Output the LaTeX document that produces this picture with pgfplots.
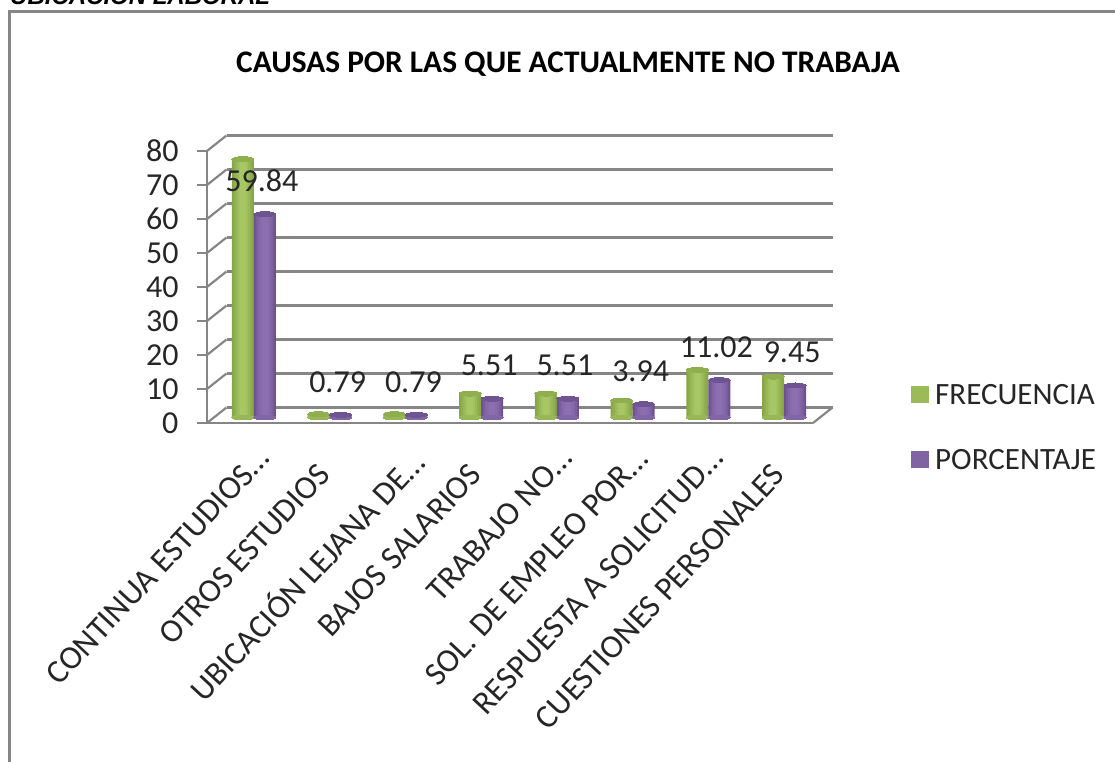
\documentclass[border=0pt]{standalone}
\usepackage{pgfplots}
\usepackage{pgfplotstable}
\usepackage{fontspec}
\setmainfont{Carlito}
\newfontfamily\arialf{Liberation Sans}
\pgfplotsset{compat=1.18}
\definecolor{fgreen}{HTML}{8FAF4E}
\definecolor{ga}{HTML}{86A648}
\definecolor{gb}{HTML}{8FAF4F}
\definecolor{gc}{HTML}{98B858}
\definecolor{gd}{HTML}{A1C160}
\definecolor{ge}{HTML}{A7C765}
\definecolor{fpurp}{HTML}{6F5492}
\definecolor{pa}{HTML}{6E5290}
\definecolor{pb}{HTML}{7A5E9C}
\definecolor{pc}{HTML}{8265A6}
\definecolor{pd}{HTML}{886BAC}
\definecolor{pe}{HTML}{8C6FB0}
\definecolor{fgreenK}{HTML}{9BBB59}
\definecolor{fpurpK}{HTML}{8064A2}
\definecolor{gridg}{HTML}{868686}
\pgfplotstableread{
x frec pct base
0 76 59.84 0
1 1 0.79 0
2 1 0.79 0
3 7 5.51 0
4 7 5.51 0
5 5 3.94 0
6 14 11.02 0
7 12 9.45 0
}\datos
\newcommand{\gbar}[2]{\addplot[ybar,bar width=#1pt,bar shift=0pt,draw=none,fill=#2,xshift=-2pt,yshift=5.5pt] table[x=x,y=frec] {\datos};}
\newcommand{\pbar}[2]{\addplot[ybar,bar width=#1pt,bar shift=0pt,draw=none,fill=#2,xshift=20pt,yshift=5.5pt] table[x=x,y=pct] {\datos};}
\newcommand{\dotsend}{…\hspace*{-22pt}}
\begin{document}
\begin{tikzpicture}[x=1pt,y=1pt]
\useasboundingbox (0,0) rectangle (1115,761);
\clip (0,0) rectangle (1115,761);
\draw[gridg,line width=3pt] (9,-5) -- (9,749) -- (1120,749);
\node[anchor=base west,inner sep=0pt,font=\arialf\bfseries\itshape\fontsize{24}{24}\selectfont] at (10,756) {UBICACIÓN LABORAL};
\node[anchor=center,inner sep=0pt,font=\bfseries\fontsize{31.4}{31.4}\selectfont] at (568,697) {CAUSAS POR LAS QUE ACTUALMENTE NO TRABAJA};
\begin{axis}[
  at={(207pt,338pt)},anchor=south west,
  scale only axis,width=606pt,height=272pt,
  xmin=-0.5,xmax=7.5,ymin=0,ymax=80,
  clip=false,
  axis line style={gridg,line width=2.2pt},
  axis x line*=bottom,axis y line*=left,
  axis line style={-},
  tick align=outside,
  ytick={0,10,...,80},
  xtick={0,...,7},
  xticklabels={CONTINUA ESTUDIOS\dotsend,OTROS ESTUDIOS,UBICACIÓN LEJANA DE\dotsend,BAJOS SALARIOS,TRABAJO NO\dotsend,SOL. DE EMPLEO POR\dotsend,RESPUESTA A SOLICITUD\dotsend,CUESTIONES PERSONALES},
  minor xtick={-0.5,0.5,...,7.5},
  major tick length=10pt,minor tick length=11pt,
  xtick style={draw=none},
  ytick style={gridg,line width=2.2pt},
  minor x tick style={gridg,line width=2.2pt},
  ymajorgrids,
  grid style={gridg,line width=2.4pt,xshift=19.5pt,yshift=15.5pt},
  tick label style={text=black!85},
  yticklabel style={font=\fontsize{32}{32}\selectfont,xshift=-15pt},
  /pgf/number format/assume math mode=true,
  xticklabel style={font=\fontsize{33}{33}\selectfont,rotate=47,anchor=north east,inner sep=0pt,xshift=-24pt,yshift=-16pt},
]
% side wall furniture
\foreach \v in {0,10,...,80}{
  \edef\tmp{\noexpand\draw[gridg,line width=2.2pt] (axis cs:-0.5,\v) -- ++(19.5pt,15.5pt);}\tmp
}
\draw[gridg,line width=2.2pt] (axis cs:7.5,0) -- ++(19.5pt,15.5pt);
% base ellipses
\addplot[only marks,mark=*,mark size=11pt,mark options={yscale=0.22,fill=gc,draw=gc,line width=0pt},xshift=-2pt,yshift=5.5pt] table[x=x,y=base] {\datos};
\addplot[only marks,mark=*,mark size=11pt,mark options={yscale=0.22,fill=pc,draw=pc,line width=0pt},xshift=20pt,yshift=5.5pt] table[x=x,y=base] {\datos};
% bars
\gbar{22}{ga}\gbar{18}{gb}\gbar{14}{gc}\gbar{10}{gd}\gbar{6}{ge}
\addplot[only marks,mark=*,mark size=11pt,mark options={yscale=0.22,fill=fgreen,draw=fgreen,line width=0pt},xshift=-2pt,yshift=5.5pt] table[x=x,y=frec] {\datos};
\pbar{22}{pa}\pbar{18}{pb}\pbar{14}{pc}\pbar{10}{pd}\pbar{6}{pe}
\addplot[only marks,mark=*,mark size=11pt,mark options={yscale=0.22,fill=fpurp,draw=fpurp,line width=0pt},xshift=20pt,yshift=5.5pt,
  nodes near coords,point meta=explicit symbolic,
  every node near coord/.append style={font=\fontsize{32}{32}\selectfont,text=black!85,anchor=center,yshift=33pt,xshift=-3pt}]
  table[x=x,y=pct,meta=pct] {\datos};
\end{axis}
% legend
\fill[fgreenK] (911,358) rectangle (929,375);
\fill[fpurpK] (911,293) rectangle (929,310);
\node[anchor=west,inner sep=0pt,font=\fontsize{31}{31}\selectfont,text=black!85] at (935,366) {FRECUENCIA};
\node[anchor=west,inner sep=0pt,font=\fontsize{31}{31}\selectfont,text=black!85] at (935,301) {PORCENTAJE};
\end{tikzpicture}
\end{document}
